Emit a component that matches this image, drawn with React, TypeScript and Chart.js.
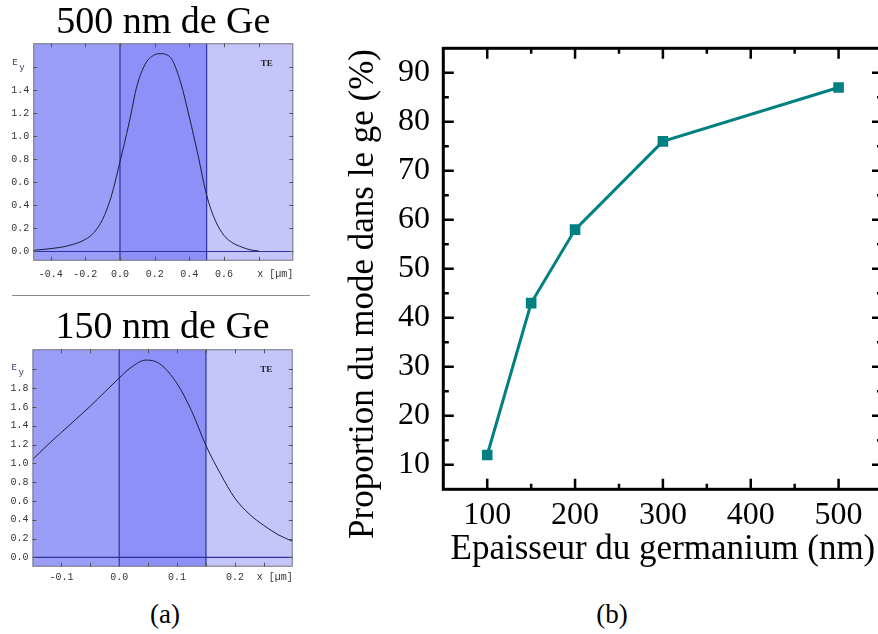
import React, { useEffect, useRef } from 'react';
import { Chart, registerables } from 'chart.js';

Chart.register(...registerables);

// ---------- Panel (a), top: 500 nm de Ge ----------
const ge500Title = '500 nm de Ge';
const ge500X = [-0.5, -0.4, -0.3, -0.2, -0.15, -0.1, -0.05, 0, 0.05, 0.1, 0.15, 0.2, 0.233, 0.27, 0.3, 0.35, 0.4, 0.45, 0.5, 0.55, 0.6, 0.65, 0.7, 0.75, 0.8];
const ge500Ey = [0.01, 0.025, 0.05, 0.105, 0.165, 0.28, 0.48, 0.78, 1.1, 1.45, 1.64, 1.71, 1.72, 1.71, 1.67, 1.47, 1.17, 0.84, 0.49, 0.27, 0.14, 0.075, 0.04, 0.015, 0.005];
const ge500Interfaces = [0, 0.5];
const ge500XRange = [-0.5, 1.0];
const ge500YRange = [-0.08, 1.81];
const ge500XTicks = [-0.4, -0.2, 0, 0.2, 0.4, 0.6, 0.8];
const ge500XTickLabels = ['-0.4', '-0.2', '0.0', '0.2', '0.4', '0.6', ''];
const ge500YTicks = [0, 0.2, 0.4, 0.6, 0.8, 1.0, 1.2, 1.4, 1.6];
const ge500YTickLabels = ['0.0', '0.2', '0.4', '0.6', '0.8', '1.0', '1.2', '1.4', ''];

// ---------- Panel (a), bottom: 150 nm de Ge ----------
const ge150Title = '150 nm de Ge';
const ge150X = [-0.15, -0.125, -0.1, -0.075, -0.05, -0.025, 0, 0.02, 0.046, 0.07, 0.1, 0.125, 0.15, 0.175, 0.2, 0.225, 0.25, 0.275, 0.3];
const ge150Ey = [1.04, 1.19, 1.33, 1.47, 1.61, 1.76, 1.91, 2.02, 2.1, 2.06, 1.85, 1.56, 1.19, 0.89, 0.63, 0.46, 0.34, 0.24, 0.17];
const ge150Interfaces = [0, 0.15];
const ge150XRange = [-0.15, 0.3];
const ge150YRange = [-0.1, 2.215];
const ge150XTicks = [-0.1, -0.05, 0, 0.05, 0.1, 0.15, 0.2, 0.25];
const ge150XTickLabels = ['-0.1', '', '0.0', '', '0.1', '', '0.2', ''];
const ge150YTicks = [0, 0.2, 0.4, 0.6, 0.8, 1.0, 1.2, 1.4, 1.6, 1.8, 2.0];
const ge150YTickLabels = ['0.0', '0.2', '0.4', '0.6', '0.8', '1.0', '1.2', '1.4', '1.6', '1.8', ''];

const modeAxisLabel = 'x [\u00b5m]';
const modeFieldLabel = ['E', 'y'];
const modePolarLabel = 'TE';

// ---------- Panel (b) ----------
const thicknessNm = [100, 150, 200, 300, 500];
const modeProportion = [12, 43, 58, 76, 87];
const bXRange = [50, 550];
const bYRange = [5, 95];
const bXTicks = [100, 150, 200, 250, 300, 350, 400, 450, 500];
const bXTickLabels = ['100', '', '200', '', '300', '', '400', '', '500'];
const bYTicks = [10, 15, 20, 25, 30, 35, 40, 45, 50, 55, 60, 65, 70, 75, 80, 85, 90];
const bYTickLabels = ['10', '', '20', '', '30', '', '40', '', '50', '', '60', '', '70', '', '80', '', '90'];
const bXTitle = 'Epaisseur du germanium (nm)';
const bYTitle = 'Proportion du mode dans le ge (%)';

const SERIF = "'Liberation Serif', 'Times New Roman', serif";
const MONO = "'Liberation Mono', 'Courier New', monospace";

const bandColors = ['#9b9ef6', '#8d90f7', '#c4c5fb'];

type ModeSpec = {
  title: string; x: number[]; y: number[]; interfaces: number[];
  xRange: number[]; yRange: number[];
  xTicks: number[]; xTickLabels: string[]; yTicks: number[]; yTickLabels: string[];
  L: { top: number; titleTop: number; titleBottom: number; yWidth: number; padRight: number; xHeight: number; xTickPad: number; eyDy: number; };
};

const specs: ModeSpec[] = [
  {
    title: ge500Title, x: ge500X, y: ge500Ey, interfaces: ge500Interfaces,
    xRange: ge500XRange, yRange: ge500YRange,
    xTicks: ge500XTicks, xTickLabels: ge500XTickLabels, yTicks: ge500YTicks, yTickLabels: ge500YTickLabels,
    L: { top: 0, titleTop: 4, titleBottom: 1.3, yWidth: 33.3, padRight: 26.7, xHeight: 29.3, xTickPad: 7.3, eyDy: -4 },
  },
  {
    title: ge150Title, x: ge150X, y: ge150Ey, interfaces: ge150Interfaces,
    xRange: ge150XRange, yRange: ge150YRange,
    xTicks: ge150XTicks, xTickLabels: ge150XTickLabels, yTicks: ge150YTicks, yTickLabels: ge150YTickLabels,
    L: { top: 300, titleTop: 9.3, titleBottom: 2, yWidth: 32.5, padRight: 27.3, xHeight: 23.3, xTickPad: 4.6, eyDy: -1 },
  },
];

function ModePanel({ spec }: { spec: ModeSpec }) {
  const ref = useRef<HTMLCanvasElement | null>(null);
  useEffect(() => {
    const L = spec.L;
    const decor = {
      id: 'modeDecor',
      beforeDatasetsDraw(chart: any) {
        const { ctx, chartArea: a, scales } = chart;
        const x = scales.x;
        const bounds = [a.left, ...spec.interfaces.map((v) => x.getPixelForValue(v)), a.right];
        ctx.save();
        for (let i = 0; i < bounds.length - 1; i++) {
          ctx.fillStyle = bandColors[i];
          ctx.fillRect(bounds[i], a.top, bounds[i + 1] - bounds[i], a.bottom - a.top);
        }
        ctx.restore();
      },
      afterDatasetsDraw(chart: any) {
        const { ctx, chartArea: a, scales } = chart;
        ctx.save();
        ctx.strokeStyle = '#7c7c7c';
        ctx.lineWidth = 1;
        ctx.strokeRect(a.left + 0.5, a.top + 0.5, a.right - a.left - 1, a.bottom - a.top - 1);
        ctx.strokeStyle = '#555';
        ctx.beginPath();
        for (const t of scales.x.ticks) {
          const px = Math.round(scales.x.getPixelForValue(t.value)) + 0.5;
          ctx.moveTo(px, a.bottom); ctx.lineTo(px, a.bottom - 4);
          ctx.moveTo(px, a.top); ctx.lineTo(px, a.top + 4);
        }
        for (const t of scales.y.ticks) {
          const py = Math.round(scales.y.getPixelForValue(t.value)) + 0.5;
          ctx.moveTo(a.left, py); ctx.lineTo(a.left + 4, py);
          ctx.moveTo(a.right, py); ctx.lineTo(a.right - 4, py);
        }
        ctx.stroke();
        ctx.restore();
      },
      afterDraw(chart: any) {
        const { ctx, chartArea: a, scales } = chart;
        ctx.save();
        ctx.fillStyle = '#333';
        ctx.font = `10px ${MONO}`;
        ctx.textBaseline = 'middle';
        ctx.textAlign = 'right';
        const labelY = a.bottom + L.xTickPad + 6;
        ctx.fillText(modeAxisLabel, a.right, labelY);
        const eyTick = scales.y.ticks[scales.y.ticks.length - 1];
        const ey = scales.y.getPixelForValue(eyTick.value) + L.eyDy;
        ctx.textAlign = 'left';
        ctx.fillStyle = '#3a3a6a';
        ctx.font = `9px ${MONO}`;
        ctx.fillText(modeFieldLabel[0], a.left - 21, ey - 1);
        ctx.fillText(modeFieldLabel[1], a.left - 14, ey + 4);
        ctx.fillStyle = '#222';
        ctx.font = `bold 9px ${SERIF}`;
        ctx.textAlign = 'center';
        ctx.fillText(modePolarLabel, a.right - 26.5, a.top + 20);
        ctx.restore();
      },
    };
    const chart = new Chart(ref.current as HTMLCanvasElement, {
      type: 'line',
      data: {
        datasets: [
          {
            data: spec.x.map((v, i) => ({ x: v, y: spec.y[i] })),
            borderColor: '#1d1d3a', borderWidth: 1, pointRadius: 0,
            cubicInterpolationMode: 'monotone', fill: false,
          },
          ...spec.interfaces.map((v) => ({
            data: [{ x: v, y: spec.yRange[0] }, { x: v, y: spec.yRange[1] }],
            borderColor: '#2f2fa0', borderWidth: 1.2, pointRadius: 0, fill: false,
          })),
          {
            data: [{ x: spec.xRange[0], y: 0 }, { x: spec.xRange[1], y: 0 }],
            borderColor: '#2f2fa0', borderWidth: 1.2, pointRadius: 0, fill: false,
          },
        ] as any,
      },
      options: {
        animation: false,
        responsive: false,
        devicePixelRatio: 1,
        events: [],
        layout: { padding: { left: 0, right: L.padRight, top: 0, bottom: 0 } },
        plugins: {
          legend: { display: false },
          tooltip: { enabled: false },
          title: {
            display: true, text: spec.title, color: '#000', fullSize: false,
            font: { family: SERIF, size: 38, weight: 'normal', lineHeight: 1 },
            padding: { top: L.titleTop, bottom: L.titleBottom },
          },
        },
        scales: {
          x: {
            type: 'linear', min: spec.xRange[0], max: spec.xRange[1],
            afterBuildTicks: (s: any) => { s.ticks = spec.xTicks.map((v) => ({ value: v })); },
            afterFit: (s: any) => { s.height = L.xHeight; },
            grid: { display: false, drawTicks: false },
            border: { display: false },
            ticks: {
              autoSkip: false, maxRotation: 0, padding: L.xTickPad, color: '#333',
              font: { family: MONO, size: 10 },
              callback: (_v: any, i: number) => spec.xTickLabels[i],
            },
          },
          y: {
            type: 'linear', min: spec.yRange[0], max: spec.yRange[1],
            afterBuildTicks: (s: any) => { s.ticks = spec.yTicks.map((v) => ({ value: v })); },
            afterFit: (s: any) => { s.width = L.yWidth; },
            grid: { display: false, drawTicks: false },
            border: { display: false },
            ticks: {
              autoSkip: false, padding: 4, color: '#333',
              font: { family: MONO, size: 10 },
              callback: (_v: any, i: number) => spec.yTickLabels[i],
            },
          },
        },
      } as any,
      plugins: [decor],
    });
    return () => chart.destroy();
  }, [spec]);
  return (
    <canvas ref={ref} width={320} height={290}
      style={{ position: 'absolute', left: 0, top: spec.L.top, width: 320, height: 290 }} />
  );
}

function ProportionPanel() {
  const ref = useRef<HTMLCanvasElement | null>(null);
  useEffect(() => {
    const frame = {
      id: 'originFrame',
      afterDatasetsDraw(chart: any) {
        const { ctx, chartArea: a, scales } = chart;
        ctx.save();
        ctx.strokeStyle = '#000';
        ctx.lineWidth = 2.5;
        ctx.beginPath();
        scales.x.ticks.forEach((t: any, i: number) => {
          const len = bXTickLabels[i] ? 10.5 : 5.5;
          const px = scales.x.getPixelForValue(t.value);
          ctx.moveTo(px, a.bottom); ctx.lineTo(px, a.bottom - len);
          ctx.moveTo(px, a.top); ctx.lineTo(px, a.top + len);
        });
        scales.y.ticks.forEach((t: any, i: number) => {
          const len = bYTickLabels[i] ? 10.5 : 5.5;
          const py = scales.y.getPixelForValue(t.value);
          ctx.moveTo(a.left, py); ctx.lineTo(a.left + len, py);
          ctx.moveTo(a.right, py); ctx.lineTo(a.right - len, py);
        });
        ctx.stroke();
        ctx.lineWidth = 3;
        ctx.strokeRect(a.left, a.top, a.right - a.left, a.bottom - a.top);
        ctx.restore();
      },
      afterDraw(chart: any) {
        const { ctx } = chart;
        ctx.save();
        ctx.translate(34, 294);
        ctx.rotate(-Math.PI / 2);
        ctx.fillStyle = '#000';
        ctx.font = `35px ${SERIF}`;
        ctx.textAlign = 'center';
        ctx.textBaseline = 'middle';
        ctx.fillText(bYTitle, 0, 0);
        ctx.restore();
      },
    };
    const chart = new Chart(ref.current as HTMLCanvasElement, {
      type: 'line',
      data: {
        datasets: [
          {
            data: thicknessNm.map((v, i) => ({ x: v, y: modeProportion[i] })),
            borderColor: '#008080', borderWidth: 3,
            pointStyle: 'rect', pointRadius: 7.5, pointBorderWidth: 0,
            pointBackgroundColor: '#008080', fill: false, tension: 0,
          },
        ],
      },
      options: {
        animation: false,
        responsive: false,
        devicePixelRatio: 1,
        events: [],
        layout: { padding: { left: 0, right: 6, top: 48.3, bottom: 0 } },
        plugins: { legend: { display: false }, tooltip: { enabled: false }, title: { display: false } },
        scales: {
          x: {
            type: 'linear', min: bXRange[0], max: bXRange[1],
            afterBuildTicks: (s: any) => { s.ticks = bXTicks.map((v) => ({ value: v })); },
            afterFit: (s: any) => { s.height = 90.7; },
            grid: { display: false, drawTicks: false },
            border: { display: false },
            ticks: {
              autoSkip: false, maxRotation: 0, padding: 7, color: '#000',
              font: { family: SERIF, size: 32 },
              callback: (_v: any, i: number) => bXTickLabels[i],
            },
            title: {
              display: true, text: bXTitle, color: '#000',
              font: { family: SERIF, size: 35 },
              padding: { top: 0, bottom: 9 },
            },
          },
          y: {
            type: 'linear', min: bYRange[0], max: bYRange[1],
            afterBuildTicks: (s: any) => { s.ticks = bYTicks.map((v) => ({ value: v })); },
            afterFit: (s: any) => { s.width = 113.3; },
            grid: { display: false, drawTicks: false },
            border: { display: false },
            ticks: {
              autoSkip: false, padding: 13.3, color: '#000',
              font: { family: SERIF, size: 32 },
              callback: (_v: any, i: number) => bYTickLabels[i],
            },
          },
        },
      } as any,
      plugins: [frame],
    });
    return () => chart.destroy();
  }, []);
  return (
    <canvas ref={ref} width={560} height={580}
      style={{ position: 'absolute', left: 330, top: 0, width: 560, height: 580 }} />
  );
}

export default function App() {
  return (
    <div style={{ position: 'absolute', left: 0, top: 0, width: 878, height: 634, overflow: 'hidden', background: '#fff' }}>
      <ModePanel spec={specs[0]} />
      <div style={{ position: 'absolute', left: 12, top: 294.5, width: 298, height: 0, borderTop: '1px solid #8a8a8a' }} />
      <ModePanel spec={specs[1]} />
      <ProportionPanel />
      <div style={{ position: 'absolute', left: 115, width: 100, top: 596, textAlign: 'center', fontFamily: SERIF, fontSize: 27, lineHeight: '36px', color: '#000' }}>(a)</div>
      <div style={{ position: 'absolute', left: 562, width: 100, top: 596, textAlign: 'center', fontFamily: SERIF, fontSize: 27, lineHeight: '36px', color: '#000' }}>(b)</div>
    </div>
  );
}
